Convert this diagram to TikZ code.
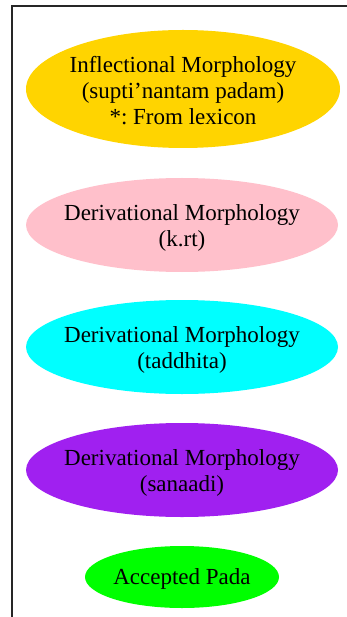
\documentclass[tikz,border=0pt]{standalone}
\usepackage{fontspec}
\setmainfont{Liberation Serif}
\definecolor{gvgold}{HTML}{FFD400}
\definecolor{gvpink}{HTML}{FFC0CB}
\definecolor{gvcyan}{HTML}{00FFFF}
\definecolor{gvpurple}{HTML}{A020F0}
\definecolor{gvgreen}{HTML}{00FF00}
\frenchspacing

\begin{document}
\begin{tikzpicture}[x=1pt, y=-1pt,
	morph/.style={inner sep=0pt, align=center, font=\fontsize{23}{26}\selectfont}]
			%%%%% START %%%%%
			\useasboundingbox (0, 0) rectangle (347, 617);
			\clip (0, 0) rectangle (347, 617);
			
			\draw[line width=1.3pt, color=black!85] (12, 6) rectangle (380, 660);
			
			\fill[gvgold] (183, 89) ellipse [x radius=157, y radius=59];
			\node[morph] (infl) at (183, 91) {Inflectional Morphology\\(supti'nantam padam)\\*: From lexicon};
			
			\fill[gvpink] (182, 225) ellipse [x radius=156, y radius=47];
			\node[morph] (krt) at (182, 228) {Derivational Morphology\\(k.rt)};
			
			\fill[gvcyan] (182, 347) ellipse [x radius=156, y radius=47];
			\node[morph] (taddhita) at (182, 350) {Derivational Morphology\\(taddhita)};
			
			\fill[gvpurple] (182, 470) ellipse [x radius=156, y radius=47];
			\node[morph] (sanaadi) at (182, 473) {Derivational Morphology\\(sanaadi)};
			
			\fill[gvgreen] (182, 577) ellipse [x radius=97, y radius=31];
			\node[morph] (pada) at (182, 579) {Accepted Pada};
			
			%%%%% END %%%%%
\end{tikzpicture}
\end{document}
